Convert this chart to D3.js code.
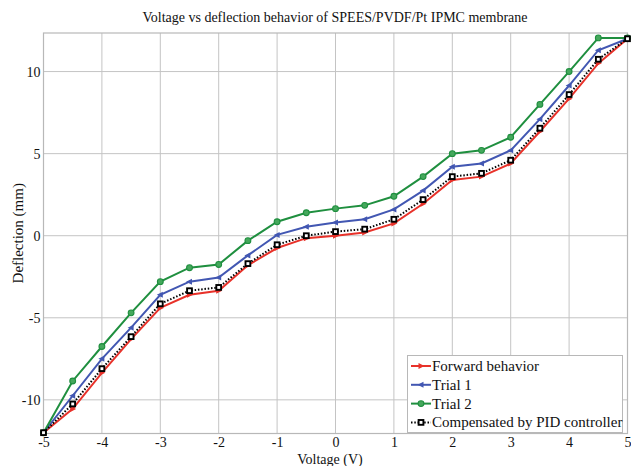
<!DOCTYPE html>
<html><head><meta charset="utf-8">
<script src="https://cdn.jsdelivr.net/npm/d3@7"></script>
<style>body{margin:0;background:#fff}svg{display:block}text{font-family:"Liberation Serif","Times New Roman",serif}</style>
</head><body>
<svg id="c" width="631" height="466"></svg>
<script>
const voltage = [-5,-4.5,-4,-3.5,-3,-2.5,-2,-1.5,-1,-0.5,0,0.5,1,1.5,2,2.5,3,3.5,4,4.5,5];
const forward = [-12,-10.55,-8.35,-6.3,-4.4,-3.6,-3.35,-1.8,-0.75,-0.15,0,0.2,0.75,1.95,3.4,3.6,4.4,6.35,8.35,10.5,12];
const trial1 = [-12,-9.75,-7.5,-5.6,-3.6,-2.8,-2.55,-1.2,0.05,0.55,0.8,1.0,1.6,2.75,4.2,4.4,5.2,7.1,9.15,11.3,12];
const trial2 = [-12,-8.85,-6.75,-4.7,-2.8,-1.95,-1.75,-0.3,0.85,1.4,1.65,1.85,2.4,3.6,5.0,5.2,6.0,8.0,10.0,12.05,12.05];
const pid = [-12,-10.25,-8.1,-6.15,-4.15,-3.35,-3.15,-1.7,-0.55,0.0,0.25,0.4,1.0,2.2,3.6,3.8,4.6,6.55,8.6,10.75,12];
const xTicks = [-5,-4,-3,-2,-1,0,1,2,3,4,5];
const yTicks = [-10,-5,0,5,10];
const seriesNames = ["Forward behavior","Trial 1","Trial 2","Compensated by PID controller"];

const FONT = "Liberation Serif";
const svg = d3.select("#c");
const L=43.5, R=627.5, T=33, B=433.5;
const x = d3.scaleLinear().domain([-5,5]).range([L,R]);
const y = d3.scaleLinear().domain([-12.05,12.35]).range([B,T]);

// grid
const g = svg.append("g");
g.selectAll(".vx").data(xTicks).join("line")
  .attr("x1",d=>x(d)).attr("x2",d=>x(d)).attr("y1",T).attr("y2",B)
  .attr("stroke","#c4c4c4").attr("stroke-width",1);
g.selectAll(".hy").data(yTicks).join("line")
  .attr("x1",L).attr("x2",R).attr("y1",d=>y(d)).attr("y2",d=>y(d))
  .attr("stroke","#c4c4c4").attr("stroke-width",1);
svg.append("rect").attr("x",L).attr("y",T).attr("width",R-L).attr("height",B-T)
  .attr("fill","none").attr("stroke","#b8b8b8").attr("stroke-width",1.2);

const fmt = d => String(d);
const xa = svg.append("g").attr("transform",`translate(0,${B})`)
  .call(d3.axisBottom(x).tickValues(xTicks).tickSize(0).tickPadding(4).tickFormat(fmt));
xa.attr("font-family",FONT).attr("font-size",14);
xa.select(".domain").remove();
xa.selectAll("text").attr("font-family",FONT).style("font-family",FONT).style("font-size","14px").attr("fill","#111");
const ya = svg.append("g").attr("transform",`translate(${L},0)`)
  .call(d3.axisLeft(y).tickValues(yTicks).tickSize(0).tickPadding(3).tickFormat(fmt));
ya.attr("font-family",FONT).attr("font-size",14);
ya.select(".domain").remove();
ya.selectAll("text").attr("font-family",FONT).style("font-family",FONT).style("font-size","14px").attr("fill","#111");

svg.append("text").attr("x",335).attr("y",22).attr("text-anchor","middle")
  .style("font-size","14px").attr("fill","#111").text("Voltage vs deflection behavior of SPEES/PVDF/Pt IPMC membrane");
svg.append("text").attr("x",330).attr("y",464).attr("text-anchor","middle")
  .style("font-size","14px").attr("fill","#111").text("Voltage (V)");
svg.append("text").attr("transform",`translate(23,${(T+B)/2}) rotate(-90)`).attr("text-anchor","middle")
  .style("font-size","15px").attr("fill","#111").text("Deflection (mm)");

const line = d3.line().x((d,i)=>x(voltage[i])).y(d=>y(d));
const series = [
  {name:seriesNames[0], data:forward, color:"#e8322a", dash:null, marker:"right"},
  {name:seriesNames[1], data:trial1, color:"#4257b2", dash:null, marker:"left"},
  {name:seriesNames[2], data:trial2, color:"#1f8f3f", dash:null, marker:"circle"},
  {name:seriesNames[3], data:pid, color:"#000", dash:"1.5,1.8", marker:"square"}
];
function drawMarker(sel, s, cx, cy){
  if(s.marker==="right"){
    sel.append("path").attr("d",`M${cx+3.5},${cy} L${cx-2.5},${cy-3} L${cx-2.5},${cy+3}Z`).attr("fill",s.color);
  } else if(s.marker==="left"){
    sel.append("path").attr("d",`M${cx-3.5},${cy} L${cx+2.5},${cy-3} L${cx+2.5},${cy+3}Z`).attr("fill",s.color);
  } else if(s.marker==="circle"){
    sel.append("circle").attr("cx",cx).attr("cy",cy).attr("r",2.9).attr("fill","#45a85c").attr("stroke",s.color).attr("stroke-width",1.1);
  } else {
    sel.append("rect").attr("x",cx-2.4).attr("y",cy-2.4).attr("width",4.8).attr("height",4.8)
      .attr("fill","#fff").attr("stroke","#000").attr("stroke-width",1.9);
  }
}
series.forEach(s=>{
  const gg = svg.append("g");
  gg.append("path").datum(s.data).attr("d",line).attr("fill","none")
    .attr("stroke",s.color).attr("stroke-width",2).attr("stroke-dasharray",s.dash);
  s.data.forEach((d,i)=>drawMarker(gg,s,x(voltage[i]),y(d)));
});

// legend
const lg = svg.append("g");
lg.append("rect").attr("x",407.5).attr("y",355.5).attr("width",215).attr("height",77)
  .attr("fill","#fff").attr("stroke","#b8b8b8").attr("stroke-width",1);
series.forEach((s,i)=>{
  const cy = 366+i*18.8;
  lg.append("line").attr("x1",411).attr("x2",431).attr("y1",cy).attr("y2",cy)
    .attr("stroke",s.color).attr("stroke-width",2).attr("stroke-dasharray",s.dash);
  drawMarker(lg,s,421,cy);
  lg.append("text").attr("x",432).attr("y",cy+5).style("font-size","15px").attr("fill","#111").text(s.name);
});
</script>
</body></html>
